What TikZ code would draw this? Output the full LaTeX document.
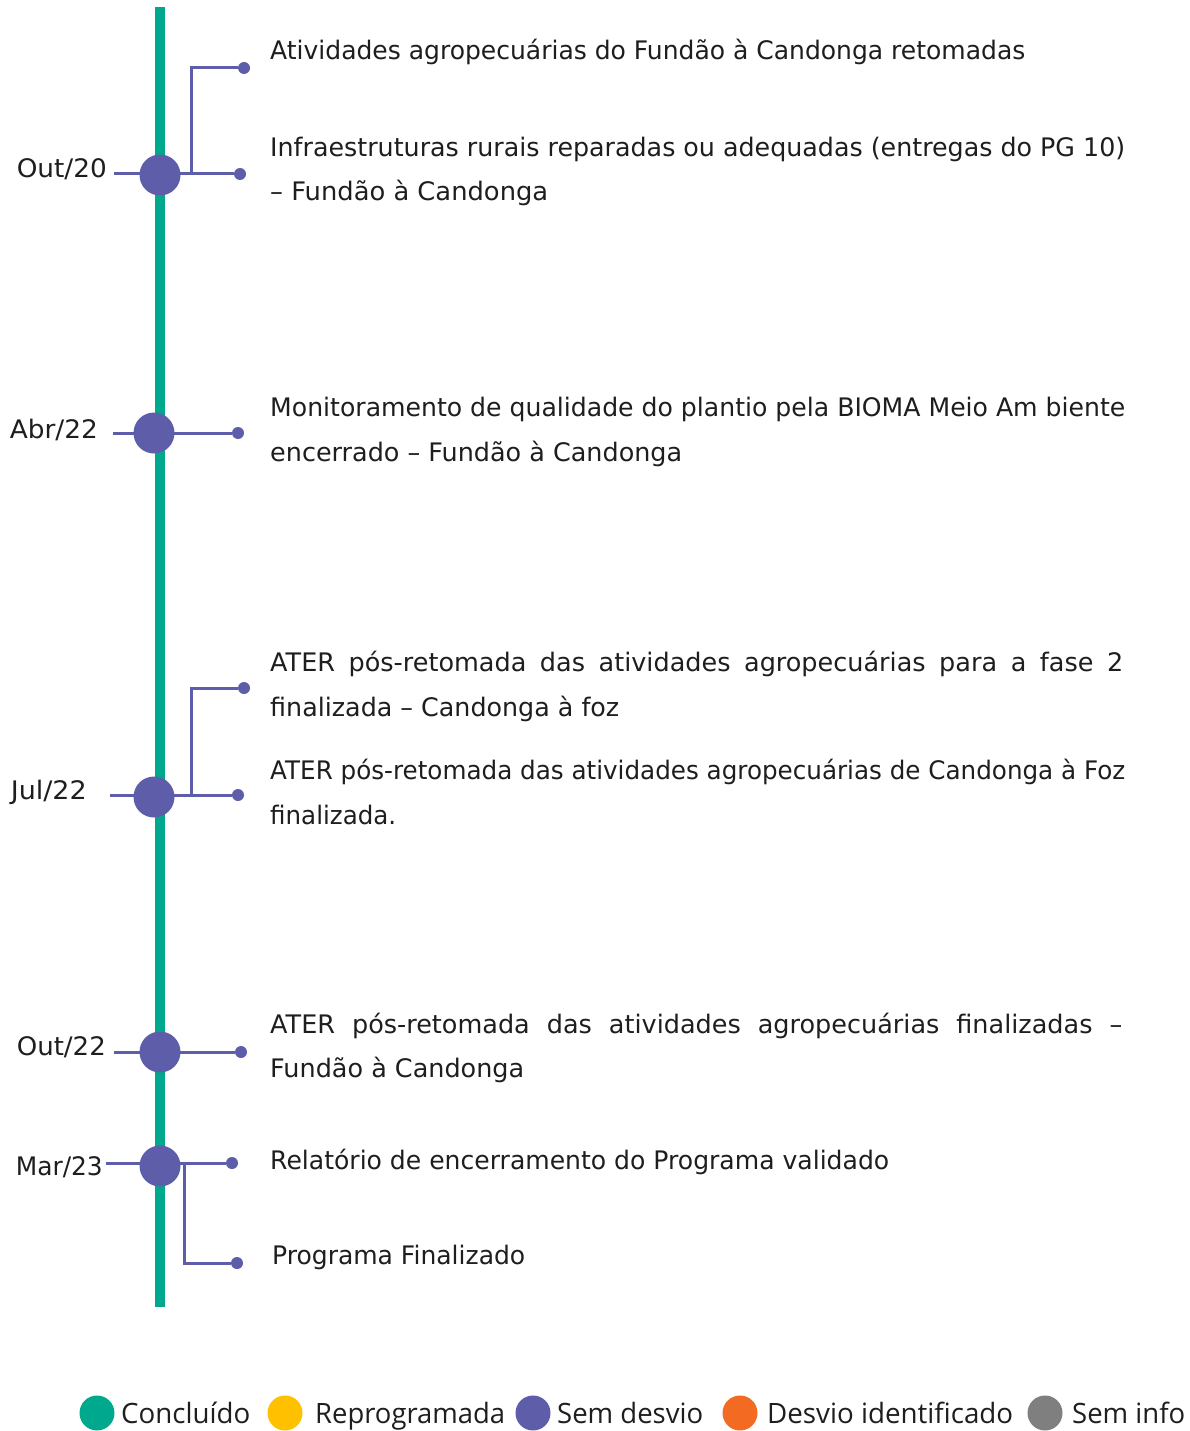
\documentclass[tikz,border=0pt]{standalone}
\usepackage{fontspec}
\usepackage{graphicx}
\setmainfont{DejaVu Sans}
\newfontfamily\legfont{Open Sans}
\definecolor{cgreen}{HTML}{00A88E}
\definecolor{cpurple}{HTML}{5D5DAA}
\definecolor{cyellow}{HTML}{FFC000}
\definecolor{corange}{HTML}{F36B22}
\definecolor{cgray}{HTML}{7F7F7F}
\definecolor{ctext}{HTML}{1E1E1E}
\newcommand{\fitw}[2]{\resizebox{#1pt}{\height}{#2}}
\newcommand{\jfit}[2]{\makebox[#1pt][s]{#2}}
\tikzset{
  mile/.style={circle, fill=cpurple, minimum size=41pt, inner sep=0pt},
  enddot/.style={circle, fill=cpurple, minimum size=12pt, inner sep=0pt},
  conn/.style={draw=cpurple, line width=3pt},
  spine/.style={draw=cgreen, line width=10pt},
  txt/.style={inner sep=0pt, text=ctext, font=\fontsize{25.5}{30}\selectfont, anchor=base west},
  datelbl/.style={inner sep=0pt, text=ctext, font=\fontsize{25.5}{30}\selectfont, anchor=base east},
  legdot/.style={circle, minimum size=35pt, inner sep=0pt},
  legtxt/.style={inner sep=0pt, text=ctext, font=\legfont\fontsize{28}{33}\selectfont, anchor=base west}
}
\begin{document}
\begin{tikzpicture}[x=1pt, y=-1pt]
\useasboundingbox[fill=white] (0,0) rectangle (1190,1431);

% spine
\coordinate (top) at (160,7);
\coordinate (bot) at (160,1307);
\draw[spine] (top) -- (bot);

% end dots
\node[enddot] (d1a) at (244,68) {};
\node[enddot] (d1b) at (240,174) {};
\node[enddot] (d2)  at (238,433) {};
\node[enddot] (d3a) at (244,688) {};
\node[enddot] (d3b) at (238,795) {};
\node[enddot] (d4)  at (241,1052) {};
\node[enddot] (d5a) at (232,1163) {};
\node[enddot] (d5b) at (237,1263) {};

% left ticks
\coordinate (t1) at (114,174);
\coordinate (t2) at (113,433);
\coordinate (t3) at (110,795);
\coordinate (t4) at (114,1052);
\coordinate (t5) at (106,1163);

% branch points
\coordinate (b1) at (191,174);
\coordinate (b3) at (191,795);
\coordinate (b5) at (184,1163);

\draw[conn] (t1) -- (d1b);
\draw[conn] (b1) |- (d1a);
\draw[conn] (t2) -- (d2);
\draw[conn] (t3) -- (d3b);
\draw[conn] (b3) |- (d3a);
\draw[conn] (t4) -- (d4);
\draw[conn] (t5) -- (d5a);
\draw[conn] (b5) |- (d5b);

% milestones (on top of connectors)
\node[mile] (m1) at (160,175) {};
\node[mile] (m2) at (154,433) {};
\node[mile] (m3) at (154,797) {};
\node[mile] (m4) at (160,1052) {};
\node[mile] (m5) at (160,1166) {};

% date labels
\node[datelbl] (l1) at (107,178) {\fitw{90}{Out/20}};
\node[datelbl] (l2) at (98,438) {\fitw{88}{Abr/22}};
\node[datelbl] (l3) at (87,799) {\fitw{76}{Jul/22}};
\node[datelbl] (l4) at (106,1055) {\fitw{89}{Out/22}};
\node[datelbl] (l5) at (103,1175) {\fitw{87}{Mar/23}};

% descriptions
\node[txt] (x1) at (270,60) {\fitw{755}{Atividades agropecuárias do Fundão à Candonga retomadas}};
\node[txt] (x2) at (270,157) {\fitw{855}{Infraestruturas rurais reparadas ou adequadas (entregas do PG 10)}};
\node[txt] (x3) at (270,201) {\fitw{278}{– Fundão à Candonga}};
\node[txt] (x4) at (270,416) {\fitw{855}{Monitoramento de qualidade do plantio pela BIOMA Meio Am biente}};
\node[txt] (x5) at (270,461) {\fitw{412}{encerrado – Fundão à Candonga}};
\node[txt] (x6) at (270,671) {\jfit{853}{ATER pós-retomada das atividades agropecuárias para a fase 2}};
\node[txt] (x7) at (270,716) {\fitw{349}{finalizada – Candonga à foz}};
\node[txt] (x8) at (270,779) {\fitw{855}{ATER pós-retomada das atividades agropecuárias de Candonga à Foz}};
\node[txt] (x9) at (270,824) {\fitw{126}{finalizada.}};
\node[txt] (x10) at (270,1033) {\jfit{852}{ATER pós-retomada das atividades agropecuárias finalizadas –}};
\node[txt] (x11) at (270,1077) {\fitw{254}{Fundão à Candonga}};
\node[txt] (x12) at (270,1169) {\fitw{619}{Relatório de encerramento do Programa validado}};
\node[txt] (x13) at (272,1264) {\fitw{253}{Programa Finalizado}};

% legend
\node[legdot, fill=cgreen]  (g1) at (97,1413) {};
\node[legdot, fill=cyellow] (g2) at (285,1413) {};
\node[legdot, fill=cpurple] (g3) at (533,1413) {};
\node[legdot, fill=corange] (g4) at (740,1413) {};
\node[legdot, fill=cgray]   (g5) at (1045,1413) {};
\node[legtxt] (h1) at (121,1423) {\fitw{129}{Concluído}};
\node[legtxt] (h2) at (315,1423) {\fitw{190}{Reprogramada}};
\node[legtxt] (h3) at (557,1423) {\fitw{146}{Sem desvio}};
\node[legtxt] (h4) at (767,1423) {\fitw{246}{Desvio identificado}};
\node[legtxt] (h5) at (1072,1423) {\fitw{113}{Sem info}};
\end{tikzpicture}
\end{document}
